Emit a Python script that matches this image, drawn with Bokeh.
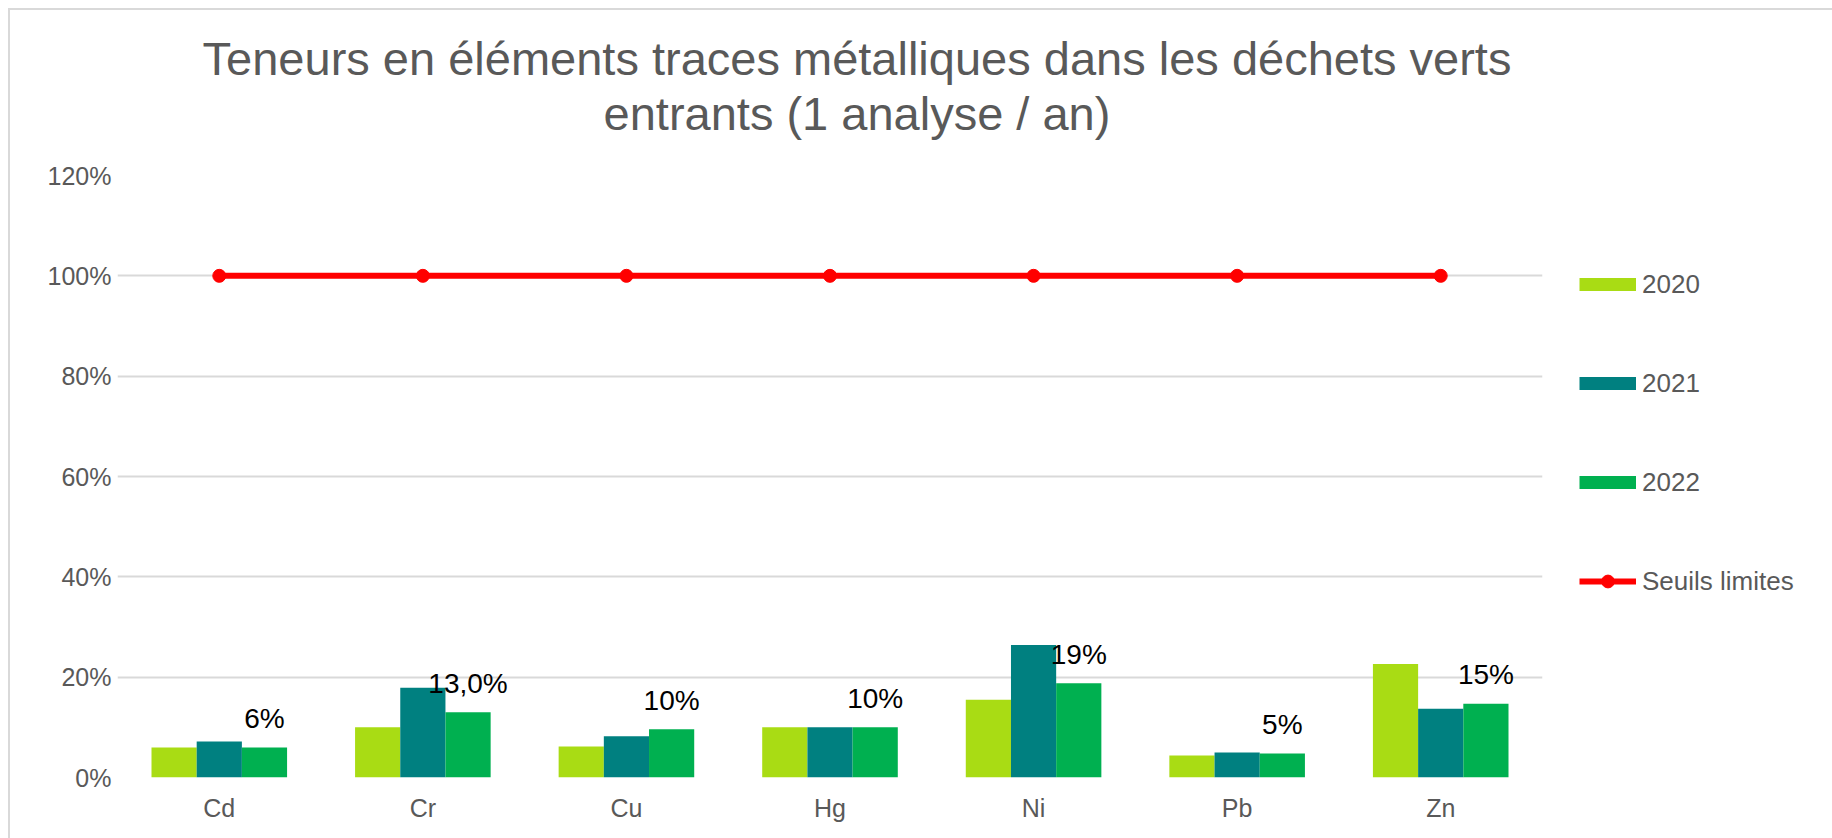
from bokeh.plotting import figure
from bokeh.layouts import column
from bokeh.models import (ColumnDataSource, FactorRange, Range1d, NumeralTickFormatter,
                          FixedTicker, Legend, LegendItem, Div)
from bokeh.transform import dodge
from bokeh.core.properties import value
from bokeh.embed import file_html
from bokeh.resources import INLINE

categories = ["Cd", "Cr", "Cu", "Hg", "Ni", "Pb", "Zn"]
v2020 = [0.060, 0.100, 0.062, 0.100, 0.155, 0.044, 0.226]
v2021 = [0.072, 0.179, 0.082, 0.100, 0.264, 0.050, 0.137]
v2022 = [0.060, 0.130, 0.096, 0.100, 0.188, 0.048, 0.147]
seuils = [1.0, 1.0, 1.0, 1.0, 1.0, 1.0, 1.0]
labels2022 = ["6%", "13,0%", "10%", "10%", "19%", "5%", "15%"]
series_names = ["2020", "2021", "2022", "Seuils limites"]
yticks = [0, 0.2, 0.4, 0.6, 0.8, 1.0, 1.2]
title_lines = ["Teneurs en éléments traces métalliques dans les déchets verts",
               "entrants (1 analyse / an)"]

COL2020 = "#A9DC14"
COL2021 = "#008080"
COL2022 = "#00B050"
RED = "#FF0000"
GRAY = "#595959"
FONT = "Liberation Sans"
BORDER = "#D9D9D9"

TITLE_H = 140

# ---------------- title strip (HTML text) ----------------
title_html = (
    f'<div style="display: block; width: 1832px; box-sizing: border-box; '
    f'font-family: \'{FONT}\'; font-size: 47px; color: {GRAY}; '
    f'text-align: center; line-height: 55px; white-space: nowrap; '
    f'padding: 31px 118px 0 0; margin: 0;">'
    + "<br>".join(title_lines) + "</div>"
)
title_div = Div(text=title_html, width=1832, height=TITLE_H, margin=(0, 0, 0, 0),
                styles={
                    "background": f"linear-gradient({BORDER}, {BORDER}) 8px 8px / 100% 2px no-repeat, "
                                  f"linear-gradient({BORDER}, {BORDER}) 8px 8px / 2px 100% no-repeat, white",
                    "overflow": "visible",
                })

# ---------------- main chart ----------------
src = ColumnDataSource(dict(cat=categories, v2020=v2020, v2021=v2021, v2022=v2022,
                            seuils=seuils, lab=labels2022))

p = figure(x_range=FactorRange(*categories, range_padding=0), y_range=Range1d(0, 1.2),
           frame_width=1425, frame_height=602, output_backend="svg", toolbar_location=None,
           min_border_left=117, min_border_right=290,
           min_border_top=175 - TITLE_H, min_border_bottom=61)
p.title = None
p.outline_line_color = None
p.background_fill_color = "white"
p.border_fill_alpha = 0

bw = 0.222
p.vbar(x=dodge("cat", -bw, range=p.x_range), top="v2020", width=bw, source=src,
       fill_color=COL2020, line_color=None)
p.vbar(x=dodge("cat", 0, range=p.x_range), top="v2021", width=bw, source=src,
       fill_color=COL2021, line_color=None)
p.vbar(x=dodge("cat", bw, range=p.x_range), top="v2022", width=bw, source=src,
       fill_color=COL2022, line_color=None)
rl = p.line(x="cat", y="seuils", source=src, line_color=RED, line_width=6)
rc = p.scatter(x="cat", y="seuils", source=src, size=13, fill_color=RED, line_color=RED)

# hidden legend proxies giving flat 13px swatches
l20 = p.line(x="cat", y="v2020", source=src, line_color=COL2020, line_width=13,
             line_cap="butt", visible=False)
l21 = p.line(x="cat", y="v2021", source=src, line_color=COL2021, line_width=13,
             line_cap="butt", visible=False)
l22 = p.line(x="cat", y="v2022", source=src, line_color=COL2022, line_width=13,
             line_cap="butt", visible=False)

p.text(x=dodge("cat", bw, range=p.x_range), y="v2022", text="lab", source=src,
       text_font=value(FONT), text_font_size="28px", text_color="#000000",
       text_align="center", text_baseline="middle", y_offset=-29)

# axes
p.yaxis.ticker = FixedTicker(ticks=yticks)
p.yaxis.formatter = NumeralTickFormatter(format="0%")
for ax in (p.xaxis[0], p.yaxis[0]):
    ax.axis_line_color = None
    ax.major_tick_line_color = None
    ax.minor_tick_line_color = None
    ax.major_tick_out = 0
    ax.major_tick_in = 0
    ax.major_label_text_font = FONT
    ax.major_label_text_font_size = "25px"
    ax.major_label_text_color = GRAY
p.yaxis.major_label_standoff = 6
p.xaxis.major_label_standoff = 16

p.xgrid.grid_line_color = None
p.ygrid.ticker = FixedTicker(ticks=yticks)
p.ygrid.grid_line_color = BORDER
p.ygrid.grid_line_width = 2

legend = Legend(items=[LegendItem(label=series_names[0], renderers=[l20]),
                       LegendItem(label=series_names[1], renderers=[l21]),
                       LegendItem(label=series_names[2], renderers=[l22]),
                       LegendItem(label=series_names[3], renderers=[rl, rc])],
                location="top_left", orientation="vertical",
                title=" ", title_text_font_size="26px", title_standoff=25,
                glyph_width=57, glyph_height=32, label_height=32, spacing=67,
                label_standoff=6, padding=0, margin=37,
                border_line_color=None, background_fill_alpha=0, inactive_fill_alpha=0,
                label_text_font=FONT, label_text_font_size="26px", label_text_color=GRAY)
p.add_layout(legend, "right")

p.styles = {
    "background": f"linear-gradient({BORDER}, {BORDER}) 8px 0px / 2px 100% no-repeat, white"
}

layout = column(title_div, p, spacing=0)
open("out.html", "w").write(file_html(layout, INLINE))
